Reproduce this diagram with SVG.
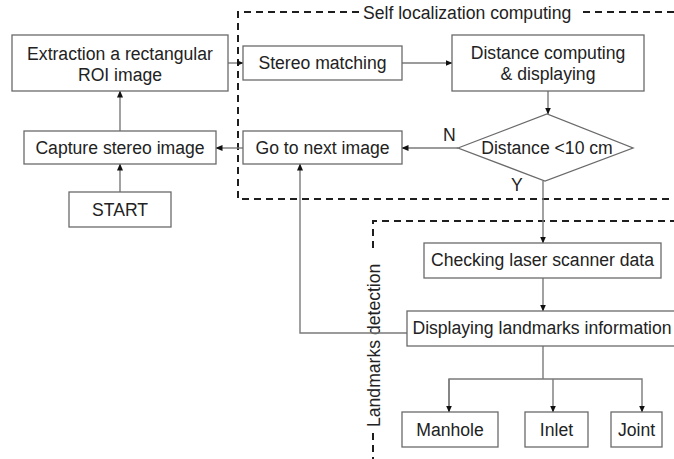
<svg xmlns="http://www.w3.org/2000/svg" width="674" height="459" viewBox="0 0 674 459">
  <style>
    .box { fill: #fff; stroke: #6a6a6a; stroke-width: 1.3; }
    .txt { font-family: "Liberation Sans", Arial, sans-serif; font-size: 17.6px; fill: #222; text-anchor: middle; }
    .lbl { font-family: "Liberation Sans", Arial, sans-serif; font-size: 17.6px; fill: #222; }
    .frame { fill: none; stroke: #1e1e1e; stroke-width: 2; stroke-dasharray: 7 5; }
    .conn { fill: none; stroke: #7a7a7a; stroke-width: 1.4; }
  </style>
  <defs>
    <marker id="arrow" markerWidth="7" markerHeight="6" refX="6.5" refY="3" orient="auto" markerUnits="userSpaceOnUse">
      <path d="M0,0 L7,3 L0,6 Z" fill="#111"/>
    </marker>
  </defs>

  <rect width="674" height="459" fill="#fff"/>

  <!-- Group frames -->
  <g id="frame-self-localization">
    <path class="frame" d="M359,12 H238 V199 H674"/>
    <path class="frame" d="M583,12 H674"/>
    <text class="lbl" x="363" y="19">Self localization computing</text>
  </g>
  <g id="frame-landmarks">
    <path class="frame" d="M373,248 V221 H674"/>
    <path class="frame" d="M373,433 V459"/>
    <text class="lbl" transform="translate(380,427) rotate(-90)">Landmarks detection</text>
  </g>

  <!-- Connectors -->
  <g id="connectors">
    <line class="conn" x1="120" y1="131" x2="120" y2="91" marker-end="url(#arrow)"/>
    <line class="conn" x1="120" y1="192" x2="120" y2="164" marker-end="url(#arrow)"/>
    <line class="conn" x1="228" y1="63" x2="243" y2="63" marker-end="url(#arrow)"/>
    <line class="conn" x1="402" y1="63" x2="452" y2="63" marker-end="url(#arrow)"/>
    <line class="conn" x1="548" y1="91" x2="548" y2="114" marker-end="url(#arrow)"/>
    <line class="conn" x1="458" y1="148" x2="402" y2="148" marker-end="url(#arrow)"/>
    <line class="conn" x1="243" y1="148" x2="216" y2="148" marker-end="url(#arrow)"/>
    <line class="conn" x1="543" y1="181" x2="543" y2="243" marker-end="url(#arrow)"/>
    <line class="conn" x1="543" y1="278" x2="543" y2="311" marker-end="url(#arrow)"/>
    <polyline class="conn" points="407,333 300,333 300,164" marker-end="url(#arrow)"/>
    <polyline class="conn" points="543,346 543,379"/>
    <polyline class="conn" points="449,412 449,379 642,379 642,412" marker-end="url(#arrow)"/>
    <line class="conn" x1="449" y1="379" x2="449" y2="412" marker-end="url(#arrow)"/>
    <line class="conn" x1="553" y1="379" x2="553" y2="412" marker-end="url(#arrow)"/>
    <text class="lbl" x="443" y="141">N</text>
    <text class="lbl" x="511" y="191">Y</text>
  </g>

  <!-- Nodes -->
  <g id="extraction">
    <rect class="box" x="12" y="35" width="216" height="56"/>
    <text class="txt" x="120" y="60">Extraction a rectangular</text>
    <text class="txt" x="120" y="81">ROI image</text>
  </g>
  <g id="capture">
    <rect class="box" x="24" y="131" width="192" height="33"/>
    <text class="txt" x="120" y="154">Capture stereo image</text>
  </g>
  <g id="start">
    <rect class="box" x="69" y="192" width="102" height="35"/>
    <text class="txt" x="120" y="216">START</text>
  </g>
  <g id="stereo-matching">
    <rect class="box" x="243" y="46" width="159" height="34"/>
    <text class="txt" x="322.5" y="69">Stereo matching</text>
  </g>
  <g id="next-image">
    <rect class="box" x="243" y="131" width="159" height="33"/>
    <text class="txt" x="322.5" y="154">Go to next image</text>
  </g>
  <g id="distance-computing">
    <rect class="box" x="452" y="35" width="192" height="56"/>
    <text class="txt" x="548" y="59">Distance computing</text>
    <text class="txt" x="548" y="80">&amp; displaying</text>
  </g>
  <g id="distance-check">
    <polygon class="box" points="458,148 547,114 633,148 545,181"/>
    <text class="txt" x="547" y="154">Distance &lt;10 cm</text>
  </g>
  <g id="laser-scanner">
    <rect class="box" x="424" y="243" width="237" height="35"/>
    <text class="txt" x="542.5" y="266">Checking laser scanner data</text>
  </g>
  <g id="landmarks-info">
    <rect class="box" x="407" y="311" width="272" height="35"/>
    <text class="txt" x="542" y="334">Displaying landmarks information</text>
  </g>
  <g id="manhole">
    <rect class="box" x="402" y="412" width="96" height="35"/>
    <text class="txt" x="450" y="436">Manhole</text>
  </g>
  <g id="inlet">
    <rect class="box" x="525" y="412" width="63" height="35"/>
    <text class="txt" x="556.5" y="436">Inlet</text>
  </g>
  <g id="joint">
    <rect class="box" x="611" y="412" width="51" height="35"/>
    <text class="txt" x="636.5" y="436">Joint</text>
  </g>
</svg>
